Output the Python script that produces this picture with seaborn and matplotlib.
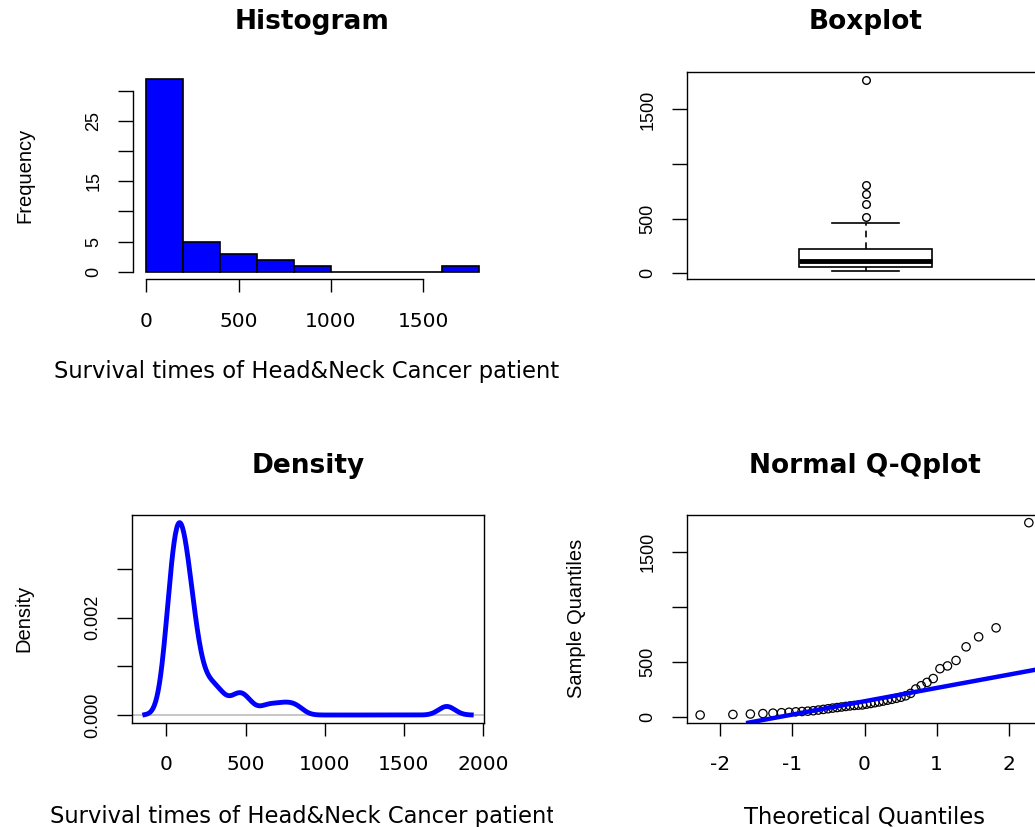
import numpy as np
import pandas as pd
import seaborn as sns
import matplotlib
matplotlib.use("Agg")
import matplotlib.pyplot as plt
from matplotlib.transforms import Bbox, TransformedBbox
from statistics import NormalDist

# ---------------- data (survival times, days) ----------------
survival = [18, 23, 27, 31, 35, 39, 43, 47,
            50, 53, 57, 63, 69, 75, 81, 86,
            91, 96, 101, 105, 108, 110, 117, 123,
            130, 137, 145, 153, 161, 170, 180, 193,
            215, 255, 285, 315, 350,
            440, 465, 515,
            639, 730, 812, 1770]

titles = ["Histogram", "Boxplot", "Density", "Normal Q-Qplot"]
xlab = "Survival times of Head&Neck Cancer patients"
hist_xticks = [0, 500, 1000, 1500]
hist_yticks = [0, 5, 10, 15, 20, 25, 30]
hist_ylabels = ["0", "5", "", "15", "", "25", ""]
q_yticks = [0, 500, 1000, 1500]
q_ylabels = ["0", "500", "", "1500"]
den_xticks = [0, 500, 1000, 1500, 2000]
den_yticks = [0, 0.001, 0.002, 0.003]
den_ylabels = ["0.000", "", "0.002", ""]
qq_xticks = [-2, -1, 0, 1, 2]

# ---------------- style ----------------
H_FONT = "DejaVu Sans"
V_FONT = "Liberation Sans"
plt.rcParams["font.family"] = [H_FONT]
plt.rcParams["axes.linewidth"] = 1.0
plt.rcParams["text.color"] = "black"

W, H = 1035, 827
fig = plt.figure(figsize=(W / 100, H / 100), dpi=100)


def box(x0, y0, x1, y1):
    return [x0 / W, 1 - y1 / H, (x1 - x0) / W, (y1 - y0) / H]


def r_range(lo, hi):
    d = 0.04 * (hi - lo)
    return lo - d, hi + d


def style_x(ax, ticks, labels=None):
    ax.set_xticks(ticks)
    ax.set_xticklabels(labels if labels is not None else [str(t) for t in ticks],
                       family=H_FONT, fontsize=14.5)
    ax.tick_params(axis="x", length=9.4, width=1, pad=14.0, direction="out",
                   colors="black")


def style_y(ax, ticks, labels):
    ax.set_yticks(ticks)
    ax.set_yticklabels(labels, rotation=90, va="center", family=V_FONT, fontsize=13)
    ax.tick_params(axis="y", length=11, width=1, pad=11, direction="out",
                   colors="black")


def title(ax, text, y):
    ax.set_title(text, y=y, pad=0, va="center", fontsize=19, fontweight="bold",
                 family=H_FONT)


def ylabel(ax, text, x):
    ax.set_ylabel(text, family=V_FONT, fontsize=14.5, va="center")
    ax.yaxis.set_label_coords(x, 0.5)


def xlabel(ax, text, y, clip_px=None):
    ax.set_xlabel(text, family=H_FONT, fontsize=16.3, va="center")
    ax.xaxis.set_label_coords(0.5, y)
    if clip_px is not None:
        lab = ax.xaxis.label
        lab.set_clip_box(TransformedBbox(Bbox.from_extents(0, 0, clip_px / W, 1),
                                         fig.transFigure))
        lab.set_clip_on(True)


# ---------------- Histogram ----------------
ax_h = fig.add_axes(box(133, 71.3, 491.8, 279.3))
sns.histplot(x=survival, binwidth=200, binrange=(0, 1800), color="blue",
             edgecolor="black", linewidth=1.2, alpha=1, ax=ax_h)
maxcount = max(p.get_height() for p in ax_h.patches)
ax_h.set_xlim(*r_range(0, 1800))
ax_h.set_ylim(*r_range(0, maxcount))
for s in ["top", "right"]:
    ax_h.spines[s].set_visible(False)
ax_h.spines["left"].set_bounds(0, 30)
ax_h.spines["bottom"].set_bounds(0, 1500)
style_x(ax_h, hist_xticks)
style_y(ax_h, hist_yticks, hist_ylabels)
title(ax_h, titles[0], 1.237)
ylabel(ax_h, "Frequency", -0.301)
xlabel(ax_h, xlab, -0.444, clip_px=560)

# ---------------- Boxplot ----------------
ax_b = fig.add_axes(box(687, 72.3, 1044, 279))
sns.boxplot(y=survival, ax=ax_b, width=0.4, color="white", linecolor="black",
            linewidth=1.2, whis=1.5, fliersize=5.5,
            flierprops=dict(marker="o", markerfacecolor="none",
                            markeredgecolor="black", markeredgewidth=1.0),
            medianprops=dict(linewidth=3.5, color="black"),
            whiskerprops=dict(linestyle=(0, (4, 3)), color="black"),
            capprops=dict(color="black"))
ax_b.set_xlim(*r_range(-0.5, 0.5))
ax_b.set_ylim(*r_range(min(survival), max(survival)))
ax_b.set_xticks([])
ax_b.set_xlabel("")
ax_b.set_ylabel("")
style_y(ax_b, q_yticks, q_ylabels)
title(ax_b, titles[1], 1.243)

# ---------------- Density ----------------
ax_d = fig.add_axes(box(131.7, 515, 484.3, 722.7))
arr = np.asarray(survival, dtype=float)
sd = arr.std(ddof=1)
iqr = np.subtract(*np.percentile(arr, [75, 25]))
bw = 0.9 * min(sd, iqr / 1.34) * len(arr) ** (-0.2)
ax_d.axhline(0, color="#BEBEBE", linewidth=1.2, zorder=1)
sns.kdeplot(x=survival, ax=ax_d, bw_method=bw / sd, cut=3, gridsize=512,
            color="blue", linewidth=3.5, zorder=2)
kline = ax_d.lines[-1]
xs, ys = kline.get_xdata(), kline.get_ydata()
ax_d.set_xlim(*r_range(xs.min(), xs.max()))
ax_d.set_ylim(*r_range(ys.min(), ys.max()))
style_x(ax_d, den_xticks)
style_y(ax_d, den_yticks, den_ylabels)
title(ax_d, titles[2], 1.236)
ylabel(ax_d, "Density", -0.307)
xlabel(ax_d, xlab, -0.452, clip_px=553)

# ---------------- Normal Q-Q plot ----------------
ax_q = fig.add_axes(box(687, 515, 1042, 722.7))
n = len(survival)
nd = NormalDist()
theo = [nd.inv_cdf((i + 0.5) / n) for i in range(n)]
sample = sorted(survival)
sns.scatterplot(x=theo, y=sample, ax=ax_q, s=36, marker="o")
coll = ax_q.collections[-1]
coll.set_facecolor("none")
coll.set_edgecolor("black")
coll.set_linewidth(0.9)
qy = np.percentile(arr, [25, 75])
qx = [nd.inv_cdf(0.25), nd.inv_cdf(0.75)]
ax_q.axline((qx[0], qy[0]), (qx[1], qy[1]), color="blue", linewidth=3.2)
ax_q.set_xlim(*r_range(min(theo), max(theo)))
ax_q.set_ylim(*r_range(min(sample), max(sample)))
style_x(ax_q, qq_xticks)
style_y(ax_q, q_yticks, q_ylabels)
title(ax_q, titles[3], 1.236)
ylabel(ax_q, "Sample Quantiles", -0.31)
xlabel(ax_q, "Theoretical Quantiles", -0.452)

for ax in [ax_h, ax_b, ax_d, ax_q]:
    for s in ax.spines.values():
        s.set_color("black")

fig.savefig("out.png", dpi=100)
